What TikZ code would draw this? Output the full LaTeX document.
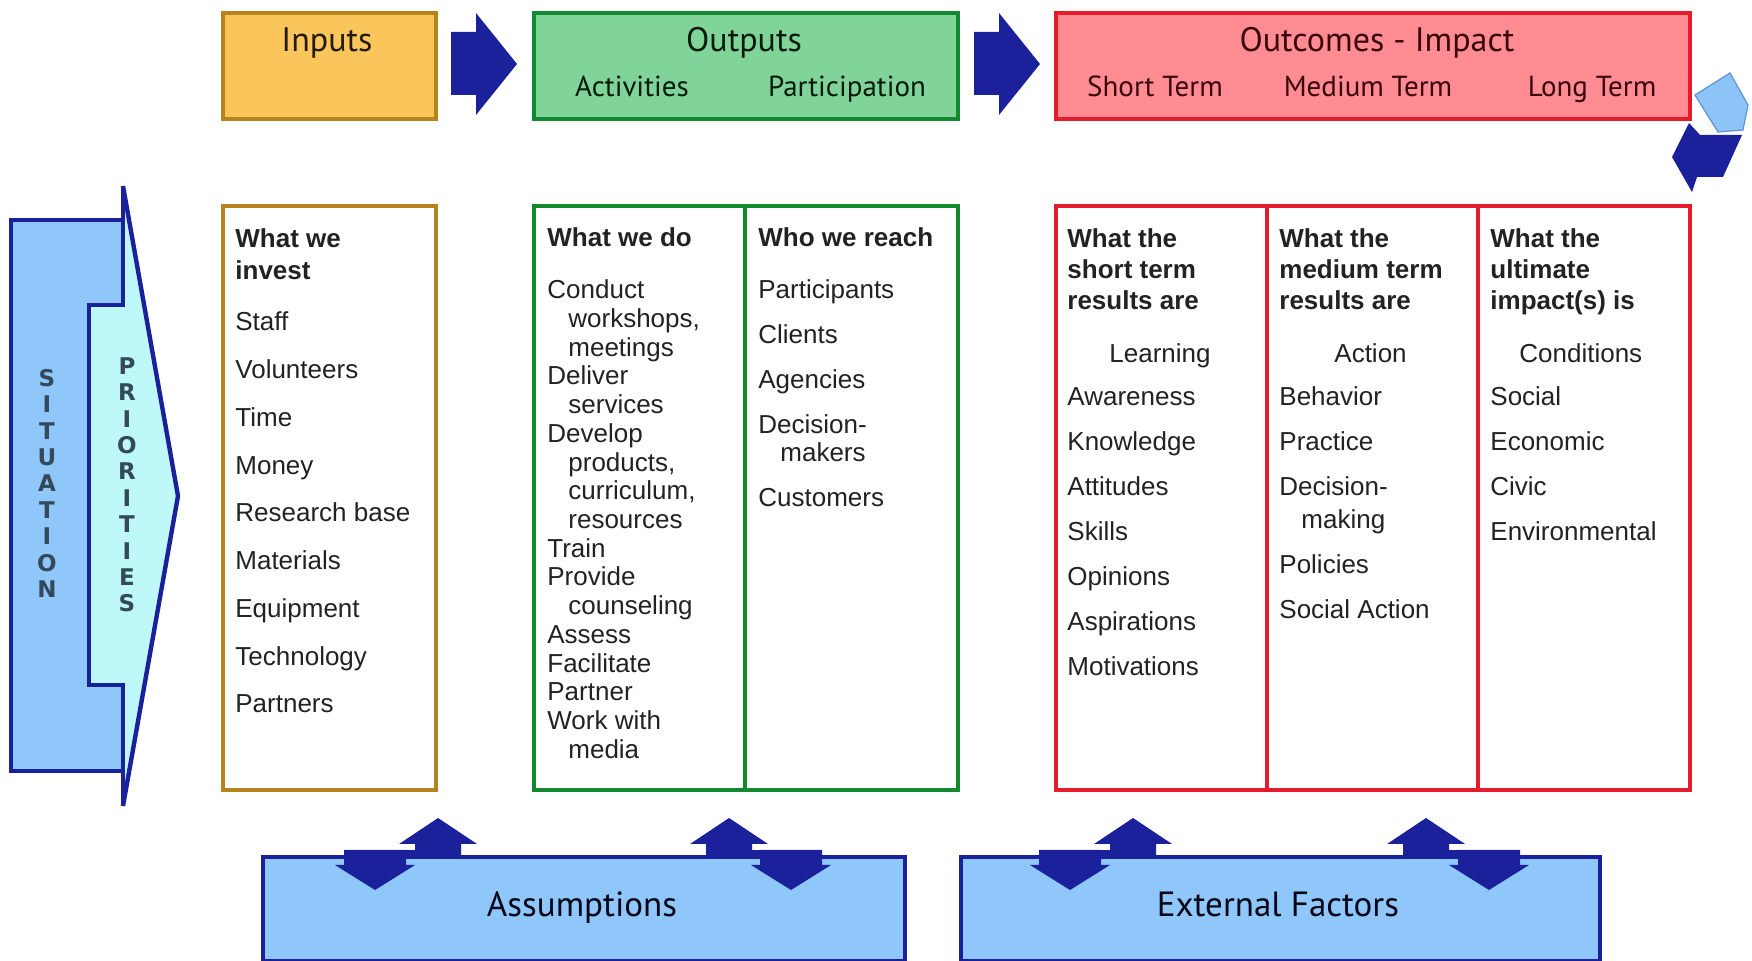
\documentclass[tikz,border=0pt]{standalone}
\usepackage{fontspec}
\setmainfont{Liberation Sans}
\newfontfamily\hdfont{PT Sans}
\newfontfamily\sitfont{DejaVu Sans}
\definecolor{infl}{HTML}{FAC65C}
\definecolor{inbd}{HTML}{B5841F}
\definecolor{oufl}{HTML}{80D49A}
\definecolor{oubd}{HTML}{12892E}
\definecolor{ocfl}{HTML}{FF8C92}
\definecolor{ocbd}{HTML}{E31B2B}
\definecolor{sitfl}{HTML}{8FC7FA}
\definecolor{prifl}{HTML}{BEF8F8}
\definecolor{navy}{HTML}{1A219A}
\definecolor{ltbl}{HTML}{8CC4F8}
\definecolor{ltbd}{HTML}{5B93D6}
\definecolor{txtc}{HTML}{222222}
\definecolor{sittx}{HTML}{34495A}
\begin{document}
\begin{tikzpicture}[x=0.5pt,y=-0.5pt,
  bx/.style={draw, line width=2pt, inner sep=0pt, anchor=north west},
  txt/.style={anchor=base west, inner sep=0pt, text=txtc, font=\fontsize{13}{15.5}\selectfont},
  btxt/.style={txt, font=\fontsize{13}{15.5}\selectfont\bfseries},
  ttl/.style={anchor=base, inner sep=0pt, font=\hdfont\fontsize{17}{20}\selectfont},
  sub/.style={anchor=base, inner sep=0pt, font=\hdfont\fontsize{14.5}{17}\selectfont},
  letter/.style={anchor=center, inner sep=0pt, text=sittx, font=\sitfont\bfseries\fontsize{11.5}{13}\selectfont},
  blk/.style={fill=navy, draw=none}
]
\useasboundingbox (0,0) rectangle (1752,961);
\fill[white] (0,0) rectangle (1752,961);

% ---------- header boxes ----------
\node[bx, draw=inbd, fill=infl, minimum width=106.5pt, minimum height=53pt] (inph) at (221,11) {};
\node[bx, draw=oubd, fill=oufl, minimum width=212pt, minimum height=53pt] (outh) at (532,11) {};
\node[bx, draw=ocbd, fill=ocfl, minimum width=317pt, minimum height=53pt] (ocmh) at (1054,11) {};

\node[ttl, text={black!80!inbd}] (tin) at (327,52) {Inputs};
\node[ttl, text={black!80!oubd}] (tout) at (744,52) {Outputs};
\node[sub, text={black!80!oubd}] (tact) at (632,97) {Activities};
\node[sub, text={black!80!oubd}] (tpar) at (847,97) {Participation};
\node[ttl, text={black!75!ocbd}] (toc) at (1377,52) {Outcomes - Impact};
\node[sub, text={black!75!ocbd}] (tst) at (1155,97) {Short Term};
\node[sub, text={black!75!ocbd}] (tmt) at (1368,97) {Medium Term};
\node[sub, text={black!75!ocbd}] (tlt) at (1592,97) {Long Term};

% ---------- top block arrows ----------
\fill[blk] (451,32) -- (476,32) -- (476,13) -- (517,64) -- (476,115) -- (476,95) -- (451,95) -- cycle;
\fill[blk] (974,32) -- (999,32) -- (999,13) -- (1040,64) -- (999,115) -- (999,95) -- (974,95) -- cycle;

% ---------- top-right loop arrow ----------
\filldraw[fill=ltbl, draw=ltbd, line width=0.6pt] (1695,95) -- (1730,73) -- (1748,105) -- (1743,130) -- (1718,132) -- cycle;
\fill[blk] (1672,157) -- (1689,123) -- (1700,135) -- (1742,135) -- (1723,177) -- (1697,177) -- (1692,192) -- cycle;

% ---------- content boxes ----------
\node[bx, draw=inbd, fill=white, minimum width=106.5pt, minimum height=292pt] (inpc) at (221,204) {};
\node[bx, draw=oubd, fill=white, minimum width=105.5pt, minimum height=292pt] (actc) at (532,204) {};
\node[bx, draw=oubd, fill=white, minimum width=106.5pt, minimum height=292pt] (parc) at (743,204) {};
\node[bx, draw=ocbd, fill=white, minimum width=105.5pt, minimum height=292pt] (stc) at (1054,204) {};
\node[bx, draw=ocbd, fill=white, minimum width=105.5pt, minimum height=292pt] (mtc) at (1265,204) {};
\node[bx, draw=ocbd, fill=white, minimum width=106pt, minimum height=292pt] (ltc) at (1476,204) {};

% Inputs column
\node[btxt] (in0) at (235,248) {What we};
\node[btxt] (in1) at (235,280) {invest};
\foreach \t [count=\i from 0] in {Staff,Volunteers,Time,Money,Research base,Materials,Equipment,Technology,Partners}
  \node[txt] (ini\i) at (235,{331+47.75*\i}) {\t};

% Activities column
\node[btxt] (ac0) at (547,247) {What we do};
\foreach \xx/\yy/\t [count=\i] in {547/299/Conduct, 568/328/{workshops,}, 568/357/meetings,
   547/385/Deliver, 568/414/services, 547/443/Develop, 568/472/{products,}, 568/500/{curriculum,},
   568/529/resources, 547/558/Train, 547/586/Provide, 568/615/counseling, 547/644/Assess,
   547/673/Facilitate, 547/701/Partner, 547/730/Work with, 568/759/media}
  \node[txt] (ac\i) at (\xx,\yy) {\t};

% Participation column
\node[btxt] (pa0) at (758,247) {Who we reach};
\foreach \xx/\yy/\t [count=\i] in {758/299/Participants, 758/344/Clients, 758/389/Agencies,
   758/434/Decision-, 780/462/makers, 758/507/Customers}
  \node[txt] (pa\i) at (\xx,\yy) {\t};

% Short term column
\foreach \yy/\t [count=\i] in {248/What the, 279/short term, 310/results are}
  \node[btxt] (sh\i) at (1067,\yy) {\t};
\node[txt] (shL) at (1109,363) {Learning};
\foreach \t [count=\i from 0] in {Awareness,Knowledge,Attitudes,Skills,Opinions,Aspirations,Motivations}
  \node[txt] (shi\i) at (1067,{406+45*\i}) {\t};

% Medium term column
\foreach \yy/\t [count=\i] in {248/What the, 279/medium term, 310/results are}
  \node[btxt] (me\i) at (1279,\yy) {\t};
\node[txt] (meL) at (1334,363) {Action};
\foreach \xx/\yy/\t [count=\i] in {1279/406/Behavior, 1279/451/Practice, 1279/496/Decision-,
   1301/529/making, 1279/574/Policies, 1279/619/Social Action}
  \node[txt] (mei\i) at (\xx,\yy) {\t};

% Long term column
\foreach \yy/\t [count=\i] in {248/What the, 279/ultimate, 310/impact(s) is}
  \node[btxt] (lo\i) at (1490,\yy) {\t};
\node[txt] (loL) at (1519,363) {Conditions};
\foreach \t [count=\i from 0] in {Social,Economic,Civic,Environmental}
  \node[txt] (loi\i) at (1490,{406+45*\i}) {\t};

% ---------- situation / priorities ----------
\fill[prifl] (123,186) -- (178,496) -- (123,806) -- (123,685) -- (89,685) -- (89,305) -- (123,305) -- cycle;
\filldraw[fill=sitfl, draw=navy, line width=2.2pt, line join=miter]
  (11,220) -- (123,220) -- (123,305) -- (89,305) -- (89,685) -- (123,685) -- (123,771) -- (11,771) -- cycle;
\draw[navy, line width=2.2pt, line join=miter] (123,186) -- (178,496) -- (123,806);
\draw[navy, line width=2.2pt] (123,186) -- (123,220) (123,771) -- (123,806);
\foreach \c [count=\i from 0] in {S,I,T,U,A,T,I,O,N}
  \node[letter] (si\i) at (47,{378+26.4*\i}) {\c};
\foreach \c [count=\i from 0] in {P,R,I,O,R,I,T,I,E,S}
  \node[letter] (pr\i) at (127,{366+26.4*\i}) {\c};

% ---------- bottom boxes ----------
\node[bx, draw=navy, fill=sitfl, minimum width=321pt, minimum height=52pt] (asm) at (261,855) {};
\node[bx, draw=navy, fill=sitfl, minimum width=319.5pt, minimum height=52pt] (ext) at (959,855) {};
\node[ttl, text=black!85!navy, font=\hdfont\fontsize{17.5}{20}\selectfont] (tasm) at (582,917) {Assumptions};
\node[ttl, text=black!85!navy, font=\hdfont\fontsize{17.5}{20}\selectfont] (text) at (1278,917) {External Factors};

% double arrows: up arrow centre \u, down arrow centre \d
\foreach \u/\d in {438/375, 729/791, 1133/1070, 1426/1489} {
  \fill[blk] (\u-23,857) -- (\u-23,844) -- (\u-39,844) -- (\u,818) -- (\u+39,844) -- (\u+23,844) -- (\u+23,857) -- cycle;
  \fill[blk] (\d-31,850) -- (\d+31,850) -- (\d+31,865) -- (\d+40,865) -- (\d,890) -- (\d-40,865) -- (\d-31,865) -- cycle;
  \fill[blk] ({min(\u,\d)},850) rectangle ({max(\u,\d)},857);
}
\end{tikzpicture}
\end{document}
